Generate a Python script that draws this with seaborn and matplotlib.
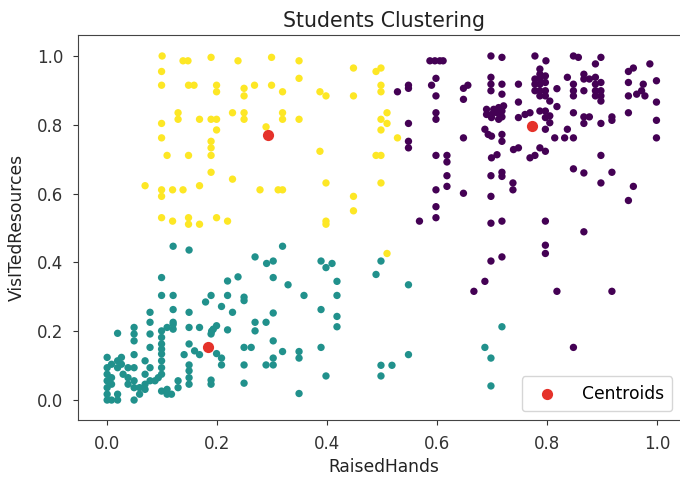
import pandas as pd
import matplotlib
matplotlib.use('Agg')
import matplotlib.pyplot as plt
import seaborn as sns

# cluster 0 (purple) - high hands / high resources
c0_x = [0.587, 0.596, 0.605, 0.611, 0.598, 0.590, 0.548, 0.548, 0.528, 0.598, 0.648, 0.656, 0.648,
        0.598, 0.598, 0.548, 0.648, 0.548, 0.548, 0.598, 0.618, 0.618, 0.618, 0.618, 0.598, 0.598,
        0.648, 0.598, 0.568,
        0.698, 0.718, 0.778, 0.798, 0.848, 0.857, 0.898, 0.888, 0.987, 0.957, 0.948,
        0.698, 0.698, 0.698, 0.718, 0.718, 0.748,
        0.787, 0.787, 0.778, 0.787, 0.797, 0.778, 0.787, 0.797, 0.778, 0.787, 0.797, 0.787, 0.797, 0.805,
        0.818, 0.837, 0.848, 0.848, 0.848,
        0.867, 0.867, 0.877, 0.888, 0.888, 0.867, 0.888, 0.898, 0.898, 0.898, 0.898, 0.888,
        0.948, 0.948, 0.963, 0.972, 0.975, 0.978, 0.999, 0.999, 0.748,
        0.690, 0.703, 0.712, 0.721, 0.690, 0.699, 0.709, 0.718, 0.699, 0.712, 0.718,
        0.748, 0.760, 0.769, 0.787, 0.797, 0.797, 0.805, 0.818, 0.805,
        0.848, 0.867, 0.877, 0.867, 0.898, 0.918, 0.918, 0.948, 0.999, 0.999,
        0.687, 0.693, 0.699, 0.718, 0.718,
        0.797, 0.814, 0.832, 0.837, 0.848,
        0.739, 0.748, 0.787, 0.797, 0.769, 0.778, 0.699, 0.709, 0.898,
        0.848, 0.867, 0.918, 0.698, 0.718, 0.718,
        0.738, 0.738, 0.898, 0.957, 0.698, 0.948,
        0.698, 0.718, 0.797, 0.867,
        0.797, 0.797, 0.698, 0.718, 0.687, 0.667, 0.818, 0.918, 0.848]
c0_y = [0.986, 0.986, 0.986, 0.986, 0.935, 0.915, 0.915, 0.906, 0.896, 0.884, 0.906, 0.915, 0.874,
        0.835, 0.816, 0.804, 0.762, 0.752, 0.733, 0.711, 0.711, 0.692, 0.652, 0.621, 0.611, 0.562,
        0.601, 0.530, 0.520,
        1.000, 0.996, 1.000, 0.986, 1.000, 0.996, 0.996, 0.977, 0.977, 0.965, 0.955,
        0.938, 0.918, 0.899, 0.918, 0.889, 0.918,
        0.962, 0.947, 0.933, 0.933, 0.942, 0.918, 0.918, 0.923, 0.899, 0.899, 0.899, 0.884, 0.884, 0.869,
        0.905, 0.938, 0.918, 0.899, 0.884,
        0.947, 0.933, 0.933, 0.938, 0.918, 0.899, 0.899, 0.923, 0.899, 0.884, 0.869, 0.884,
        0.923, 0.884, 0.889, 0.899, 0.918, 0.884, 0.928, 0.866, 0.866,
        0.845, 0.845, 0.850, 0.855, 0.830, 0.830, 0.835, 0.840, 0.821, 0.816, 0.823,
        0.821, 0.830, 0.835, 0.840, 0.840, 0.821, 0.826, 0.853, 0.806,
        0.835, 0.823, 0.823, 0.804, 0.804, 0.823, 0.813, 0.835, 0.813, 0.762,
        0.787, 0.772, 0.767, 0.772, 0.752,
        0.787, 0.762, 0.762, 0.787, 0.762,
        0.728, 0.733, 0.733, 0.723, 0.704, 0.711, 0.704, 0.713, 0.711,
        0.672, 0.660, 0.662, 0.652, 0.662, 0.650,
        0.631, 0.611, 0.631, 0.621, 0.592, 0.580,
        0.514, 0.520, 0.520, 0.489,
        0.450, 0.426, 0.404, 0.416, 0.345, 0.316, 0.316, 0.316, 0.153]

# cluster 1 (teal) - low hands / low resources
c1_x = [0.718, 0.687, 0.698, 0.698,
        0.319, 0.302, 0.389, 0.409, 0.398, 0.498, 0.489, 0.302, 0.329, 0.418, 0.358, 0.418, 0.548,
        0.302, 0.389, 0.418, 0.418, 0.302, 0.319, 0.349, 0.349, 0.302, 0.302, 0.389, 0.398, 0.349,
        0.498, 0.518, 0.498, 0.548,
        0.120, 0.149, 0.269, 0.290, 0.099, 0.238, 0.219, 0.099, 0.120, 0.189, 0.179, 0.219, 0.208,
        0.249, 0.249, 0.120, 0.228, 0.078, 0.078, 0.120, 0.149, 0.149, 0.168, 0.190, 0.199, 0.219,
        0.269, 0.269, 0.289, 0.262, 0.249, 0.289, 0.249, 0.249, 0.019, 0.049, 0.049, 0.049, 0.049,
        0.078, 0.078, 0.099, 0.099, 0.099, 0.099, 0.109, 0.120, 0.120, 0.149, 0.140, 0.159, 0.168,
        0.189, 0.193, 0.199, 0.208, 0.208, 0.149, 0.149, 0.149, 0.149, 0.129, 0.129, 0.189, 0.189,
        0.099, 0.099, 0.099, 0.099, 0.093, 0.087, 0.099, 0.109, 0.109, 0.117, 0.069, 0.078, 0.069,
        0.078, 0.069, 0.049, 0.049, 0.049, 0.049, 0.059, 0.059, 0.069, 0.0, 0.0, 0.0, 0.0, 0.0,
        0.0, 0.0, 0.008, 0.008, 0.008, 0.008, 0.019, 0.019, 0.019, 0.026, 0.026, 0.029, 0.038,
        0.038, 0.038, 0.019]
c1_y = [0.213, 0.153, 0.122, 0.041,
        0.447, 0.404, 0.404, 0.397, 0.385, 0.404, 0.365, 0.356, 0.335, 0.345, 0.304, 0.304, 0.335,
        0.253, 0.263, 0.243, 0.213, 0.172, 0.141, 0.141, 0.122, 0.122, 0.102, 0.153, 0.070, 0.019,
        0.101, 0.101, 0.070, 0.132,
        0.447, 0.436, 0.416, 0.397, 0.356, 0.358, 0.346, 0.304, 0.304, 0.304, 0.285, 0.304, 0.272,
        0.299, 0.289, 0.263, 0.255, 0.255, 0.226, 0.226, 0.255, 0.211, 0.211, 0.200, 0.216, 0.204,
        0.226, 0.201, 0.226, 0.153, 0.153, 0.102, 0.102, 0.049, 0.194, 0.211, 0.192, 0.172, 0.132,
        0.192, 0.153, 0.201, 0.182, 0.163, 0.148, 0.211, 0.220, 0.206, 0.163, 0.132, 0.143, 0.132,
        0.192, 0.206, 0.135, 0.122, 0.102, 0.102, 0.085, 0.065, 0.046, 0.056, 0.036, 0.058, 0.046,
        0.134, 0.114, 0.094, 0.075, 0.065, 0.056, 0.026, 0.031, 0.017, 0.017, 0.114, 0.094, 0.075,
        0.056, 0.046, 0.094, 0.056, 0.036, 0.0, 0.036, 0.017, 0.031, 0.124, 0.094, 0.075, 0.056, 0.036,
        0.017, 0.0, 0.104, 0.065, 0.046, 0.0, 0.114, 0.094, 0.0, 0.124, 0.104, 0.075, 0.094,
        0.065, 0.046, 0.017]

# cluster 2 (yellow) - low hands / high resources
c2_x = [0.100, 0.138, 0.147, 0.189, 0.238, 0.299, 0.099,
        0.099, 0.148, 0.158, 0.199, 0.199, 0.249, 0.249, 0.268, 0.299,
        0.129, 0.129, 0.168, 0.189, 0.199, 0.228, 0.249, 0.249,
        0.099, 0.199, 0.289, 0.099,
        0.189, 0.189, 0.189, 0.109, 0.148, 0.189, 0.228,
        0.069, 0.099, 0.099, 0.119, 0.138, 0.168, 0.278, 0.311,
        0.099, 0.119, 0.148, 0.148, 0.168, 0.199, 0.219,
        0.349, 0.349, 0.319, 0.387, 0.398, 0.448, 0.489, 0.498, 0.448, 0.498, 0.498, 0.319, 0.319,
        0.349, 0.509, 0.498, 0.509, 0.498, 0.528, 0.387, 0.489, 0.498, 0.319, 0.398, 0.498, 0.448,
        0.448, 0.398, 0.398, 0.509]
c2_y = [1.000, 0.986, 0.986, 0.996, 0.986, 0.996, 0.955,
        0.915, 0.915, 0.915, 0.915, 0.896, 0.906, 0.884, 0.915, 0.915,
        0.835, 0.816, 0.816, 0.816, 0.816, 0.835, 0.835, 0.816,
        0.804, 0.785, 0.794, 0.762,
        0.752, 0.733, 0.711, 0.711, 0.711, 0.662, 0.642,
        0.623, 0.611, 0.592, 0.611, 0.611, 0.623, 0.611, 0.611,
        0.530, 0.520, 0.530, 0.511, 0.511, 0.530, 0.520,
        0.986, 0.935, 0.896, 0.896, 0.884, 0.965, 0.955, 0.965, 0.884, 0.915, 0.896, 0.835, 0.816,
        0.816, 0.835, 0.816, 0.804, 0.785, 0.762, 0.723, 0.711, 0.711, 0.611, 0.631, 0.631, 0.592,
        0.550, 0.520, 0.511, 0.426]

centroid_x = [0.772, 0.184, 0.293]
centroid_y = [0.796, 0.155, 0.769]

palette = ['#440154', '#21918c', '#fde725']

df = pd.concat([
    pd.DataFrame({'RaisedHands': c0_x, 'VisITedResources': c0_y, 'cluster': 0}),
    pd.DataFrame({'RaisedHands': c1_x, 'VisITedResources': c1_y, 'cluster': 1}),
    pd.DataFrame({'RaisedHands': c2_x, 'VisITedResources': c2_y, 'cluster': 2}),
])
cent = pd.DataFrame({'RaisedHands': centroid_x, 'VisITedResources': centroid_y})

plt.rcParams['font.family'] = ['DejaVu Sans']
fig = plt.figure(figsize=(6.8, 4.79), dpi=100)
# axes runs a bit past the right edge, like the cropped original
ax = fig.add_axes([78 / 680, 59 / 479, 612 / 680, 385 / 479])

sns.scatterplot(data=df, x='RaisedHands', y='VisITedResources', hue='cluster',
                palette=palette, s=28, linewidth=0, legend=False, ax=ax)
sns.scatterplot(data=cent, x='RaisedHands', y='VisITedResources', color='#e5322a',
                s=65, linewidth=0, label='Centroids', ax=ax)

ax.set_xlim(-0.053, 1.06)
ax.set_ylim(-0.058, 1.061)
ax.set_xticks([0.0, 0.2, 0.4, 0.6, 0.8, 1.0])
ax.set_yticks([0.0, 0.2, 0.4, 0.6, 0.8, 1.0])
ax.tick_params(labelsize=12, colors='#333333', pad=7)
for s in ax.spines.values():
    s.set_color('#444444')

ax.set_title('Students Clustering', fontsize=14.8, pad=6, color='#222222')
ax.set_xlabel('RaisedHands', fontsize=12.3, color='#222222')
ax.set_ylabel('VisITedResources', fontsize=12.3, color='#222222', labelpad=8)
ax.legend(loc='lower right', fontsize=12.3, borderpad=0.5, handletextpad=1.0,
          bbox_to_anchor=(0.985, 0.0))

fig.savefig('out.png', dpi=100)
